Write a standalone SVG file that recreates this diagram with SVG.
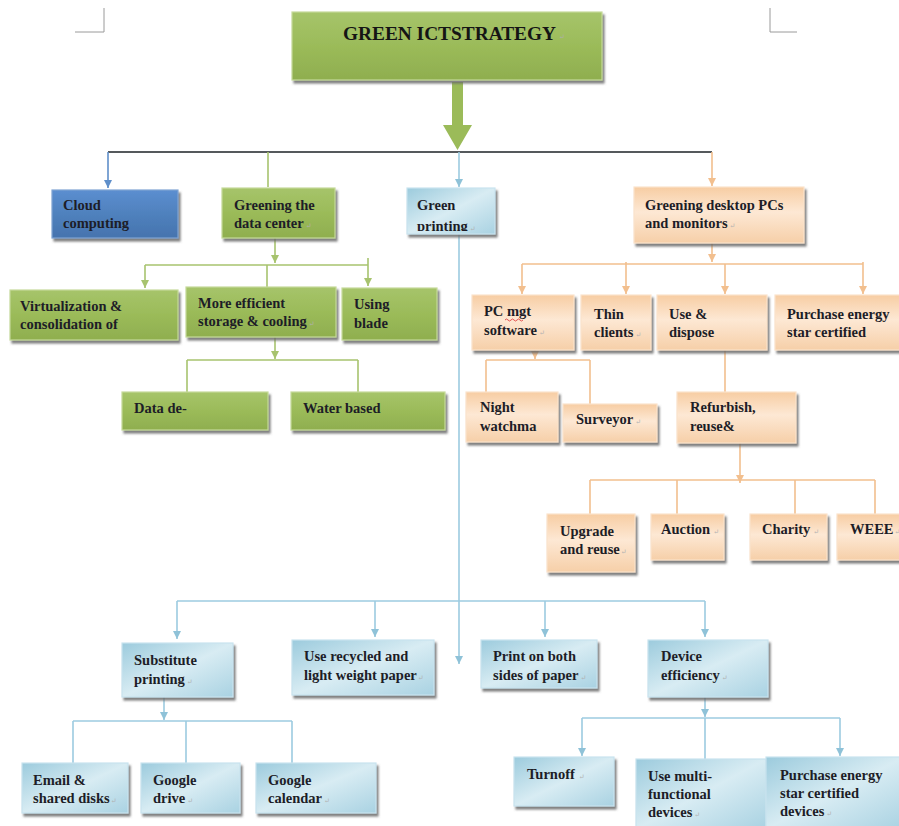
<svg xmlns="http://www.w3.org/2000/svg" width="899" height="826" viewBox="0 0 899 826">
  <defs>
    <filter id="shadow" x="-10%" y="-10%" width="130%" height="140%">
      <feDropShadow dx="2" dy="3" stdDeviation="1.2" flood-color="#6b6b6b" flood-opacity="0.85"/>
    </filter>
    <linearGradient id="gGreen" x1="0" y1="0" x2="0" y2="1">
      <stop offset="0" stop-color="#a6c46a"/>
      <stop offset="0.5" stop-color="#9bbb59"/>
      <stop offset="1" stop-color="#8fae4f"/>
    </linearGradient>
    <linearGradient id="gCloud" x1="0" y1="0" x2="0" y2="1">
      <stop offset="0" stop-color="#5b8ed0"/>
      <stop offset="0.5" stop-color="#4f81bd"/>
      <stop offset="1" stop-color="#4673ae"/>
    </linearGradient>
    <linearGradient id="gBlue" x1="0" y1="0" x2="1" y2="1">
      <stop offset="0" stop-color="#9ccbdd"/>
      <stop offset="0.5" stop-color="#d8ecf3"/>
      <stop offset="1" stop-color="#a9d2e2"/>
    </linearGradient>
    <linearGradient id="gOrange" x1="0" y1="0" x2="0" y2="1">
      <stop offset="0" stop-color="#f7cda3"/>
      <stop offset="0.45" stop-color="#fde8d4"/>
      <stop offset="1" stop-color="#f6cfa8"/>
    </linearGradient>
    <marker id="aGreen" viewBox="0 0 10 10" refX="5" refY="10" markerWidth="9" markerHeight="8" markerUnits="userSpaceOnUse">
      <path d="M0,0 L10,0 L5,10 Z" fill="#a7c36e"/>
    </marker>
    <marker id="aOrange" viewBox="0 0 10 10" refX="5" refY="10" markerWidth="9" markerHeight="8" markerUnits="userSpaceOnUse">
      <path d="M0,0 L10,0 L5,10 Z" fill="#f2bf8e"/>
    </marker>
    <marker id="aBlue" viewBox="0 0 10 10" refX="5" refY="10" markerWidth="9" markerHeight="8" markerUnits="userSpaceOnUse">
      <path d="M0,0 L10,0 L5,10 Z" fill="#8fc2d8"/>
    </marker>
    <marker id="aCloud" viewBox="0 0 10 10" refX="5" refY="10" markerWidth="9" markerHeight="8" markerUnits="userSpaceOnUse">
      <path d="M0,0 L10,0 L5,10 Z" fill="#5f8fca"/>
    </marker>
    <clipPath id="clipPrinting"><rect x="407" y="188" width="88" height="43"/></clipPath>
  </defs>
  <style>
    .box { stroke-width: 1.2; filter: url(#shadow); }
    .green { fill: url(#gGreen); stroke: #c5d99a; }
    .cloud { fill: url(#gCloud); stroke: #7fa3d3; }
    .blue { fill: url(#gBlue); stroke: #c9e3ee; }
    .orange { fill: url(#gOrange); stroke: #fbe3cc; }
    text { font-family: "Liberation Serif", "DejaVu Serif", serif; font-weight: bold; font-size: 14.5px; fill: #1d1d27; }
    .title { font-size: 19px; fill: #151515; }
    .pm { font-size: 7px; fill: #b0b0b0; font-weight: normal; }
    .ln { fill: none; stroke-width: 1.6; }
    .lgreen { stroke: #a7c36e; }
    .lorange { stroke: #f2bf8e; }
    .lblue { stroke: #9ccbe0; }
    .ldark { stroke: #55595c; stroke-width: 2; }
    .corner { fill: none; stroke: #9a9a9a; stroke-width: 1; }
  </style>

  <!-- page corner marks -->
  <path class="corner" d="M104,8 V32 H75"/>
  <path class="corner" d="M770,8 V32 H797"/>

  <!-- connectors -->
  <g id="connectors">
    <!-- main arrow out of the title -->
    <path d="M452,82 H463 V125 H472 L457.5,150 L443,125 H452 Z" fill="#9bbb59"/>
    <path class="ln ldark" d="M108,152 H712"/>
    <path class="ln" stroke="#5f8fca" d="M108,152 V188" marker-end="url(#aCloud)"/>
    <path class="ln lgreen" d="M268,152 V187"/>
    <path class="ln lblue" d="M459,152 V187" marker-end="url(#aBlue)"/>
    <path class="ln lorange" d="M712,152 V186" marker-end="url(#aOrange)"/>

    <!-- data center branch -->
    <path class="ln lgreen" d="M275,238 V263" marker-end="url(#aGreen)"/>
    <path class="ln lgreen" d="M145,265 H368"/>
    <path class="ln lgreen" d="M145,265 V288" marker-end="url(#aGreen)"/>
    <path class="ln lgreen" d="M267,265 V287"/>
    <path class="ln lgreen" d="M368,258 V286" marker-end="url(#aGreen)"/>
    <path class="ln lgreen" d="M275,337 V359" marker-end="url(#aGreen)"/>
    <path class="ln lgreen" d="M187,360 H358"/>
    <path class="ln lgreen" d="M187,360 V392"/>
    <path class="ln lgreen" d="M358,360 V392"/>

    <!-- desktop PCs branch -->
    <path class="ln lorange" d="M712,243 V262" marker-end="url(#aOrange)"/>
    <path class="ln lorange" d="M522,264 H863"/>
    <path class="ln lorange" d="M522,264 V294" marker-end="url(#aOrange)"/>
    <path class="ln lorange" d="M626,262 V294" marker-end="url(#aOrange)"/>
    <path class="ln lorange" d="M725,264 V294" marker-end="url(#aOrange)"/>
    <path class="ln lorange" d="M863,262 V294" marker-end="url(#aOrange)"/>
    <path class="ln lorange" d="M535,350 V359" marker-end="url(#aOrange)"/>
    <path class="ln lorange" d="M486,360 H590"/>
    <path class="ln lorange" d="M486,360 V392"/>
    <path class="ln lorange" d="M590,360 V404"/>
    <path class="ln lorange" d="M725,350 V392"/>
    <path class="ln lorange" d="M740,443 V483" marker-end="url(#aOrange)"/>
    <path class="ln lorange" d="M590,480 H875"/>
    <path class="ln lorange" d="M590,480 V514"/>
    <path class="ln lorange" d="M677,480 V514"/>
    <path class="ln lorange" d="M795,480 V514"/>
    <path class="ln lorange" d="M875,480 V514"/>

    <!-- green printing branch -->
    <path class="ln lblue" d="M459,234 V664" marker-end="url(#aBlue)"/>
    <path class="ln lblue" d="M177,601 H705"/>
    <path class="ln lblue" d="M177,601 V639" marker-end="url(#aBlue)"/>
    <path class="ln lblue" d="M375,601 V637" marker-end="url(#aBlue)"/>
    <path class="ln lblue" d="M545,601 V637" marker-end="url(#aBlue)"/>
    <path class="ln lblue" d="M705,601 V637" marker-end="url(#aBlue)"/>
    <path class="ln lblue" d="M164,697 V720" marker-end="url(#aBlue)"/>
    <path class="ln lblue" d="M73,721 H292"/>
    <path class="ln lblue" d="M73,721 V763"/>
    <path class="ln lblue" d="M186,721 V763"/>
    <path class="ln lblue" d="M292,721 V763"/>
    <path class="ln lblue" d="M705,697 V717" marker-end="url(#aBlue)"/>
    <path class="ln lblue" d="M582,718 H840"/>
    <path class="ln lblue" d="M582,718 V756" marker-end="url(#aBlue)"/>
    <path class="ln lblue" d="M705,718 V759"/>
    <path class="ln lblue" d="M840,718 V756" marker-end="url(#aBlue)"/>
  </g>

  <!-- root -->
  <g id="root">
    <rect class="box green" x="292" y="12" width="310" height="68" stroke="#e6eedb" stroke-width="3"/>
    <text class="title" x="343" y="40" textLength="213" lengthAdjust="spacingAndGlyphs">GREEN ICTSTRATEGY</text>
    <text class="pm" x="559" y="39">↵</text>
  </g>

  <!-- first level -->
  <g id="cloud-computing">
    <rect class="box cloud" x="52" y="190" width="126" height="48"/>
    <text x="63" y="210" fill="#1a2540">Cloud</text>
    <text x="63" y="228">computing</text>
  </g>
  <g id="greening-data-center">
    <rect class="box green" x="222" y="188" width="113" height="50"/>
    <text x="234" y="210">Greening the</text>
    <text x="234" y="228">data center<tspan class="pm" dx="2">↵</tspan></text>
  </g>
  <g id="green-printing">
    <rect class="box blue" x="407" y="188" width="88" height="46"/>
    <text x="417" y="210">Green</text>
    <text x="417" y="231" clip-path="url(#clipPrinting)">printing<tspan class="pm" dx="2">↵</tspan></text>
  </g>
  <g id="greening-desktop">
    <rect class="box orange" x="634" y="187" width="170" height="56"/>
    <text x="645" y="210">Greening desktop PCs</text>
    <text x="645" y="228">and monitors<tspan class="pm" dx="2">↵</tspan></text>
  </g>

  <!-- data center children -->
  <g id="virtualization">
    <rect class="box green" x="10" y="290" width="168" height="50"/>
    <text x="20" y="311">Virtualization &amp;</text>
    <text x="20" y="329">consolidation of</text>
  </g>
  <g id="storage-cooling">
    <rect class="box green" x="186" y="287" width="150" height="50"/>
    <text x="198" y="308">More efficient</text>
    <text x="198" y="326">storage &amp; cooling<tspan class="pm" dx="2">↵</tspan></text>
  </g>
  <g id="using-blade">
    <rect class="box green" x="342" y="288" width="95" height="52"/>
    <text x="354" y="309">Using</text>
    <text x="354" y="328">blade</text>
  </g>
  <g id="data-dedup">
    <rect class="box green" x="122" y="392" width="146" height="38"/>
    <text x="134" y="413">Data de-</text>
  </g>
  <g id="water-based">
    <rect class="box green" x="291" y="392" width="154" height="38"/>
    <text x="303" y="413">Water based</text>
  </g>

  <!-- desktop children -->
  <g id="pc-mgt">
    <rect class="box orange" x="472" y="295" width="102" height="55"/>
    <text x="484" y="316">PC mgt</text>
    <path d="M505,320 q1.5,-2 3,0 t3,0 t3,0 t3,0 t3,0 t3,0" fill="none" stroke="#e04040" stroke-width="0.9"/>
    <text x="484" y="335">software<tspan class="pm" dx="2">↵</tspan></text>
  </g>
  <g id="thin-clients">
    <rect class="box orange" x="581" y="295" width="70" height="55"/>
    <text x="594" y="319">Thin</text>
    <text x="594" y="337">clients<tspan class="pm" dx="2">↵</tspan></text>
  </g>
  <g id="use-dispose">
    <rect class="box orange" x="657" y="295" width="110" height="55"/>
    <text x="669" y="319">Use &amp;</text>
    <text x="669" y="337">dispose</text>
  </g>
  <g id="purchase-energy-pc">
    <rect class="box orange" x="775" y="295" width="130" height="55"/>
    <text x="787" y="319">Purchase energy</text>
    <text x="787" y="337">star certified</text>
  </g>
  <g id="night-watchman">
    <rect class="box orange" x="466" y="392" width="92" height="50"/>
    <text x="480" y="412">Night</text>
    <text x="480" y="431">watchma</text>
  </g>
  <g id="surveyor">
    <rect class="box orange" x="563" y="404" width="94" height="38"/>
    <text x="576" y="424">Surveyor<tspan class="pm" dx="2">↵</tspan></text>
  </g>
  <g id="refurbish">
    <rect class="box orange" x="677" y="392" width="119" height="51"/>
    <text x="690" y="412">Refurbish,</text>
    <text x="690" y="431">reuse&amp;</text>
  </g>
  <g id="upgrade-reuse">
    <rect class="box orange" x="547" y="514" width="88" height="58"/>
    <text x="560" y="536">Upgrade</text>
    <text x="560" y="554">and reuse<tspan class="pm" dx="1">↵</tspan></text>
  </g>
  <g id="auction">
    <rect class="box orange" x="651" y="514" width="73" height="46"/>
    <text x="661" y="534">Auction<tspan class="pm" dx="3">↵</tspan></text>
  </g>
  <g id="charity">
    <rect class="box orange" x="750" y="514" width="77" height="46"/>
    <text x="762" y="534">Charity<tspan class="pm" dx="3">↵</tspan></text>
  </g>
  <g id="weee">
    <rect class="box orange" x="837" y="514" width="70" height="46"/>
    <text x="850" y="534">WEEE<tspan class="pm" dx="1">↵</tspan></text>
  </g>

  <!-- printing children -->
  <g id="substitute-printing">
    <rect class="box blue" x="122" y="643" width="111" height="54"/>
    <text x="134" y="665">Substitute</text>
    <text x="134" y="684">printing<tspan class="pm" dx="2">↵</tspan></text>
  </g>
  <g id="recycled-paper">
    <rect class="box blue" x="292" y="640" width="142" height="55"/>
    <text x="304" y="661">Use recycled and</text>
    <text x="304" y="680">light weight paper<tspan class="pm" dx="1">↵</tspan></text>
  </g>
  <g id="both-sides">
    <rect class="box blue" x="481" y="640" width="116" height="48"/>
    <text x="493" y="661">Print on both</text>
    <text x="493" y="680">sides of paper<tspan class="pm" dx="2">↵</tspan></text>
  </g>
  <g id="device-efficiency">
    <rect class="box blue" x="648" y="640" width="120" height="57"/>
    <text x="661" y="661">Device</text>
    <text x="661" y="680">efficiency<tspan class="pm" dx="2">↵</tspan></text>
  </g>
  <g id="email-disks">
    <rect class="box blue" x="22" y="763" width="106" height="50"/>
    <text x="33" y="785">Email &amp;</text>
    <text x="33" y="803">shared disks<tspan class="pm" dx="1">↵</tspan></text>
  </g>
  <g id="google-drive">
    <rect class="box blue" x="141" y="763" width="99" height="50"/>
    <text x="153" y="785">Google</text>
    <text x="153" y="803">drive<tspan class="pm" dx="2">↵</tspan></text>
  </g>
  <g id="google-calendar">
    <rect class="box blue" x="256" y="763" width="120" height="50"/>
    <text x="268" y="785">Google</text>
    <text x="268" y="803">calendar<tspan class="pm" dx="2">↵</tspan></text>
  </g>
  <g id="turnoff">
    <rect class="box blue" x="514" y="757" width="100" height="49"/>
    <text x="527" y="779">Turnoff<tspan class="pm" dx="4">↵</tspan></text>
  </g>
  <g id="multi-functional">
    <rect class="box blue" x="636" y="759" width="130" height="70"/>
    <text x="648" y="781">Use multi-</text>
    <text x="648" y="799">functional</text>
    <text x="648" y="817">devices<tspan class="pm" dx="2">↵</tspan></text>
  </g>
  <g id="purchase-energy-devices">
    <rect class="box blue" x="766" y="757" width="138" height="72"/>
    <text x="780" y="780">Purchase energy</text>
    <text x="780" y="798">star certified</text>
    <text x="780" y="816">devices<tspan class="pm" dx="2">↵</tspan></text>
  </g>
</svg>
